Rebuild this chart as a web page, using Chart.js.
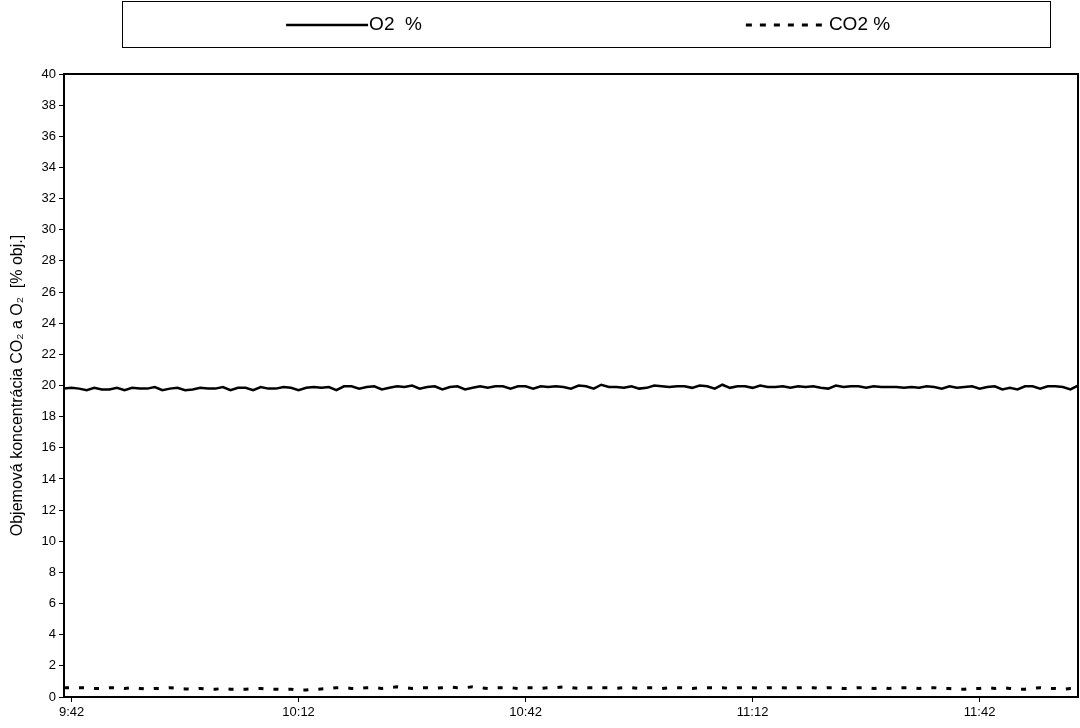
<!DOCTYPE html>
<html>
<head>
<meta charset="utf-8">
<script src="https://cdn.jsdelivr.net/npm/chart.js@4.4.1/dist/chart.umd.min.js"></script>
<style>
  html, body { margin: 0; padding: 0; background: #fff; }
  #wrap { width: 1080px; height: 728px; }
</style>
</head>
<body>
<div id="wrap"><canvas id="gasChart"></canvas></div>
<script>
// one sample per minute, first sample at 9:41
const seriesNames = ['O2  %', 'CO2 %'];
const xTickMinutes = [1, 31, 61, 91, 121];
const xTickLabels = ['9:42', '10:12', '10:42', '11:12', '11:42'];
const yTitle = 'Objemová koncentrácia CO₂ a O₂  [% obj.]';

const o2 = [
    19.8,
    19.85, 19.8, 19.7, 19.85, 19.75, 19.75, 19.85, 19.7, 19.85, 19.8, 19.8, 19.9, 19.7, 19.8, 19.85, 19.7, 19.75, 19.85, 19.8, 19.8,
    19.9, 19.7, 19.85, 19.85, 19.7, 19.9, 19.8, 19.8, 19.9, 19.85, 19.7, 19.85, 19.9, 19.85, 19.9, 19.7, 19.95, 19.95, 19.8, 19.9,
    19.95, 19.75, 19.85, 19.95, 19.9, 20.0, 19.8, 19.9, 19.95, 19.75, 19.9, 19.95, 19.75, 19.85, 19.95, 19.85, 19.95, 19.95, 19.8, 19.95,
    19.95, 19.8, 19.95, 19.9, 19.95, 19.9, 19.8, 20.0, 19.95, 19.8, 20.05, 19.9, 19.9, 19.85, 19.95, 19.8, 19.85, 20.0, 19.95, 19.9,
    19.95, 19.95, 19.85, 20.0, 19.95, 19.8, 20.05, 19.85, 19.95, 19.95, 19.85, 20.0, 19.9, 19.9, 19.95, 19.85, 19.95, 19.9, 19.95, 19.85,
    19.8, 20.0, 19.9, 19.95, 19.95, 19.85, 19.95, 19.9, 19.9, 19.9, 19.85, 19.9, 19.85, 19.95, 19.9, 19.8, 19.95, 19.85, 19.9, 19.95,
    19.8, 19.9, 19.95, 19.75, 19.85, 19.75, 19.95, 19.95, 19.8, 19.95, 19.95, 19.9, 19.75, 20.0
];

const co2 = [
    0.6,
    0.6, 0.6, 0.58, 0.55, 0.55, 0.6, 0.58, 0.55, 0.6, 0.55, 0.5, 0.55, 0.55, 0.6, 0.55, 0.52, 0.5, 0.55, 0.5, 0.5,
    0.55, 0.5, 0.5, 0.5, 0.52, 0.55, 0.5, 0.5, 0.48, 0.5, 0.45, 0.45, 0.48, 0.52, 0.55, 0.6, 0.6, 0.55, 0.55, 0.6,
    0.6, 0.55, 0.6, 0.65, 0.6, 0.55, 0.6, 0.6, 0.55, 0.6, 0.65, 0.6, 0.6, 0.65, 0.6, 0.55, 0.6, 0.6, 0.6, 0.55,
    0.6, 0.6, 0.55, 0.6, 0.6, 0.65, 0.6, 0.55, 0.6, 0.6, 0.6, 0.6, 0.55, 0.6, 0.6, 0.55, 0.6, 0.6, 0.55, 0.6,
    0.6, 0.6, 0.55, 0.6, 0.6, 0.6, 0.6, 0.55, 0.6, 0.6, 0.6, 0.55, 0.6, 0.6, 0.6, 0.55, 0.6, 0.6, 0.6, 0.55,
    0.6, 0.6, 0.55, 0.55, 0.6, 0.6, 0.55, 0.6, 0.55, 0.6, 0.6, 0.6, 0.55, 0.6, 0.6, 0.55, 0.55, 0.5, 0.5, 0.55,
    0.55, 0.6, 0.55, 0.6, 0.55, 0.5, 0.5, 0.55, 0.6, 0.55, 0.55, 0.5, 0.55, 0.55
];

const FONT = '"Liberation Sans", Arial, sans-serif';
const toPoints = arr => arr.map((v, i) => ({ x: i, y: v }));

// Excel-style framed legend, one column per series
const boxLegend = {
    id: 'boxLegend',
    afterDraw(chart, args, opts) {
        const ctx = chart.ctx;
        const { left, top, right, bottom } = opts.box;
        ctx.save();
        ctx.strokeStyle = '#000';
        ctx.lineWidth = 1;
        ctx.strokeRect(left + 0.5, top + 0.5, right - left, bottom - top);
        const n = chart.data.datasets.length;
        const half = (right - left) / n;
        const midY = (top + bottom) / 2 + 1;
        ctx.font = opts.font;
        ctx.textBaseline = 'middle';
        chart.data.datasets.forEach((ds, i) => {
            const tw = ctx.measureText(ds.label).width;
            const w = opts.lineLength + opts.gap + tw;
            const x0 = left + half * i + (half - w) / 2;
            ctx.beginPath();
            ctx.setLineDash(ds.legendDash || []);
            ctx.lineWidth = ds.borderWidth;
            ctx.strokeStyle = ds.borderColor;
            ctx.moveTo(x0, midY);
            ctx.lineTo(x0 + opts.lineLength, midY);
            ctx.stroke();
            ctx.setLineDash([]);
            ctx.fillStyle = '#000';
            ctx.fillText(ds.label, x0 + opts.lineLength + opts.gap, midY);
        });
        ctx.restore();
    }
};

// top and right edges of the plot box
const plotFrame = {
    id: 'plotFrame',
    afterDraw(chart) {
        const { ctx, chartArea: a } = chart;
        ctx.save();
        ctx.strokeStyle = '#000';
        ctx.lineWidth = 2;
        ctx.beginPath();
        ctx.moveTo(a.left, a.top);
        ctx.lineTo(a.right, a.top);
        ctx.lineTo(a.right, a.bottom);
        ctx.stroke();
        ctx.restore();
    }
};

new Chart(document.getElementById('gasChart'), {
    type: 'line',
    data: {
        datasets: [{
            label: seriesNames[0],
            data: toPoints(o2),
            borderColor: '#000',
            borderWidth: 2.5,
            pointRadius: 0,
            tension: 0
        }, {
            label: seriesNames[1],
            data: toPoints(co2),
            borderColor: '#000',
            borderWidth: 3,
            borderDash: [5, 10],
            legendDash: [6, 8],
            pointRadius: 0,
            tension: 0
        }]
    },
    plugins: [boxLegend, plotFrame],
    options: {
        responsive: true,
        maintainAspectRatio: false,
        animation: false,
        layout: { padding: { top: 74, right: 2, left: 0, bottom: 0 } },
        plugins: {
            legend: { display: false },
            tooltip: { enabled: false },
            boxLegend: {
                box: { left: 122, top: 1, right: 1050, bottom: 47 },
                font: '19px ' + FONT,
                lineLength: 82,
                gap: 1
            }
        },
        scales: {
            x: {
                type: 'linear',
                min: 0,
                max: o2.length - 1,
                afterFit: s => { s.height = 31; },
                afterBuildTicks: s => { s.ticks = xTickMinutes.map(v => ({ value: v })); },
                border: { color: '#000', width: 2 },
                grid: { drawOnChartArea: false, drawTicks: true, tickLength: 5, color: '#000' },
                ticks: {
                    color: '#000',
                    font: { family: FONT, size: 13 },
                    maxRotation: 0,
                    padding: 3,
                    callback: v => xTickLabels[xTickMinutes.indexOf(v)]
                }
            },
            y: {
                min: 0,
                max: 40,
                afterFit: s => { s.width = 64; },
                border: { color: '#000', width: 2 },
                grid: { drawOnChartArea: false, drawTicks: true, tickLength: 5, color: '#000' },
                ticks: {
                    stepSize: 2,
                    color: '#000',
                    font: { family: FONT, size: 13 },
                    padding: 3
                },
                title: {
                    display: true,
                    text: yTitle,
                    color: '#000',
                    font: { family: FONT, size: 16 },
                    padding: { top: 8, bottom: 0 }
                }
            }
        }
    }
});
</script>
</body>
</html>
